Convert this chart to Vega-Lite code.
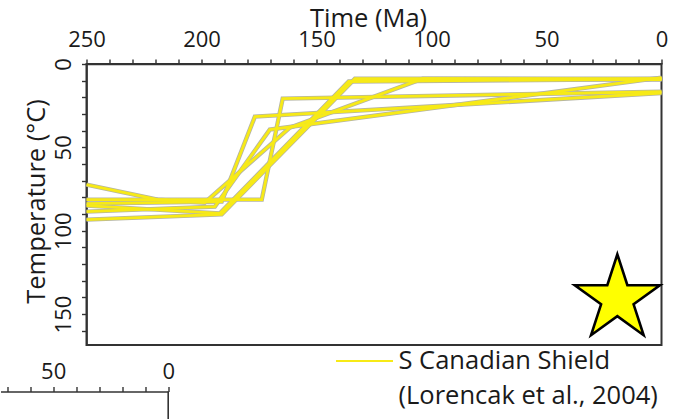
{
  "$schema": "https://vega.github.io/schema/vega-lite/v6.json",
  "background": "white",
  "padding": {"left": 0.5, "top": 5, "right": 0, "bottom": 0},
  "spacing": -51.5,
  "align": "none",
  "resolve": {"scale": {"color": "independent"}},
  "config": {
    "font": "Open Sans",
    "view": {"stroke": "#333333", "strokeWidth": 2},
    "axis": {"domainColor": "#333333", "domainWidth": 1.6, "tickColor": "#333333", "tickWidth": 1.4, "labelColor": "#1a1a1a", "titleColor": "#1a1a1a", "labelFont": "Open Sans", "titleFont": "Open Sans", "titleFontWeight": "normal", "grid": false, "labelFontSize": 22, "titleFontSize": 25.5, "labelFlush": false, "labelOverlap": false, "tickSize": 5}
  },
  "datasets": {
    "paths": [
      {"path": "P1", "k": 0, "t": 250, "T": 93.4, "src": "S Canadian Shield"},
      {"path": "P1", "k": 1, "t": 191.2, "T": 90.2, "src": "S Canadian Shield"},
      {"path": "P1", "k": 2, "t": 133.3, "T": 8.8, "src": "S Canadian Shield"},
      {"path": "P1", "k": 3, "t": 0, "T": 8.8, "src": "S Canadian Shield"},
      {"path": "P2", "k": 0, "t": 250, "T": 81.4, "src": "S Canadian Shield"},
      {"path": "P2", "k": 1, "t": 173.8, "T": 81.4, "src": "S Canadian Shield"},
      {"path": "P2", "k": 2, "t": 164.7, "T": 20.8, "src": "S Canadian Shield"},
      {"path": "P2", "k": 3, "t": 0, "T": 16.6, "src": "S Canadian Shield"},
      {"path": "P3", "k": 0, "t": 250, "T": 83.8, "src": "S Canadian Shield"},
      {"path": "P3", "k": 1, "t": 191.2, "T": 82.6, "src": "S Canadian Shield"},
      {"path": "P3", "k": 2, "t": 176.8, "T": 31.6, "src": "S Canadian Shield"},
      {"path": "P3", "k": 3, "t": 0, "T": 17.4, "src": "S Canadian Shield"},
      {"path": "P4", "k": 0, "t": 250, "T": 88.6, "src": "S Canadian Shield"},
      {"path": "P4", "k": 1, "t": 194.2, "T": 85.6, "src": "S Canadian Shield"},
      {"path": "P4", "k": 2, "t": 170.3, "T": 39.4, "src": "S Canadian Shield"},
      {"path": "P4", "k": 3, "t": 0, "T": 8.2, "src": "S Canadian Shield"},
      {"path": "P5", "k": 0, "t": 250, "T": 72.4, "src": "S Canadian Shield"},
      {"path": "P5", "k": 1, "t": 219.0, "T": 81.4, "src": "S Canadian Shield"},
      {"path": "P5", "k": 2, "t": 198.6, "T": 83.2, "src": "S Canadian Shield"},
      {"path": "P5", "k": 3, "t": 161.6, "T": 38.2, "src": "S Canadian Shield"},
      {"path": "P5", "k": 4, "t": 103.8, "T": 8.8, "src": "S Canadian Shield"},
      {"path": "P5", "k": 5, "t": 0, "T": 9.4, "src": "S Canadian Shield"},
      {"path": "P6", "k": 0, "t": 250, "T": 85.0, "src": "S Canadian Shield"},
      {"path": "P6", "k": 1, "t": 192.0, "T": 89.6, "src": "S Canadian Shield"},
      {"path": "P6", "k": 2, "t": 136.0, "T": 10.5, "src": "S Canadian Shield"},
      {"path": "P6", "k": 3, "t": 0, "T": 9.0, "src": "S Canadian Shield"}
    ],
    "star": [{"t": 19.2, "T": 141.0}],
    "frag": [{"t": 0}]
  },
  "vconcat": [
    {
      "width": 575,
      "height": 281,
      "encoding": {
        "x": {
          "field": "t", "type": "quantitative",
          "scale": {"domain": [250, 0], "nice": false, "zero": false},
          "axis": {
            "orient": "top",
            "values": [0,10,20,30,40,50,60,70,80,90,100,110,120,130,140,150,160,170,180,190,200,210,220,230,240,250],
            "labelExpr": "datum.value % 50 === 0 ? datum.label : ''",
            "labelPadding": 7.6,
            "title": "Time (Ma)",
            "titleX": 281.5,
            "titleY": -32.5,
            "encode": {"ticks": {"update": {"y2": {"signal": "datum.value % 50 === 0 ? -9 : -5"}}}}
          }
        },
        "y": {
          "field": "T", "type": "quantitative",
          "scale": {"domain": [0, 168.6], "nice": false, "zero": false, "reverse": true},
          "axis": {
            "orient": "left",
            "values": [0,10,20,30,40,50,60,70,80,90,100,110,120,130,140,150,160],
            "labelExpr": "datum.value % 50 === 0 ? datum.label : ''",
            "labelAngle": -90,
            "labelAlign": "center",
            "labelBaseline": "bottom",
            "labelPadding": 6.5,
            "title": "Temperature (°C)",
            "titleX": -37,
            "titleY": 137,
            "encode": {"ticks": {"update": {"x2": {"signal": "datum.value % 50 === 0 ? -9 : -5"}}}}
          }
        }
      },
      "layer": [
        {
          "data": {"name": "paths"},
          "mark": {"type": "line", "stroke": "#b4b4a4", "strokeWidth": 4.4, "strokeJoin": "miter"},
          "encoding": {"detail": {"field": "path", "type": "nominal"}, "order": {"field": "k", "type": "quantitative"}}
        },
        {
          "data": {"name": "paths"},
          "mark": {"type": "line", "strokeWidth": 2.8, "strokeJoin": "miter"},
          "encoding": {
            "color": {
              "field": "src", "type": "nominal",
              "scale": {"range": ["#f7ea17"]},
              "legend": {
                "orient": "none", "legendX": 248, "legendY": 267,
                "title": null,
                "symbolType": "stroke", "symbolSize": 3249, "symbolStrokeWidth": 2.2,
                "labelFont": "Open Sans", "labelFontSize": 25.5, "labelColor": "#1a1a1a",
                "labelOffset": 4, "labelLimit": 500,
                "labelExpr": "['S Canadian Shield', '(Lorencak et al., 2004)']",
                "encode": {"labels": {"update": {"lineHeight": {"value": 35}}}}
              }
            },
            "detail": {"field": "path", "type": "nominal"},
            "order": {"field": "k", "type": "quantitative"}
          }
        },
        {
          "data": {"name": "star"},
          "mark": {"type": "point", "shape": "M0,-1L0.2245,-0.309L0.9511,-0.309L0.3633,0.118L0.5878,0.809L0,0.382L-0.5878,0.809L-0.3633,0.118L-0.9511,-0.309L-0.2245,-0.309Z", "size": 8000, "filled": true, "fill": "#ffff00", "stroke": "#000000", "strokeWidth": 2.6, "opacity": 1, "strokeJoin": "miter"}
        }
      ]
    },
    {
      "width": 167.7,
      "height": 28,
      "view": {"stroke": null},
      "data": {"name": "frag"},
      "mark": {"type": "rule", "color": "#333333", "strokeWidth": 1.6, "xOffset": -86},
      "encoding": {
        "x": {
          "field": "t", "type": "quantitative",
          "scale": {"domain": [72.9, 0], "nice": false, "zero": false},
          "axis": {
            "orient": "top",
            "position": -86,
            "values": [0,10,20,30,40,50,60,70],
            "labelExpr": "datum.value % 50 === 0 ? datum.label : ''",
            "labelPadding": 3.4,
            "title": null,
            "encode": {"ticks": {"update": {"y2": {"signal": "datum.value % 50 === 0 ? -9 : -5"}}}}
          }
        }
      }
    }
  ]
}
